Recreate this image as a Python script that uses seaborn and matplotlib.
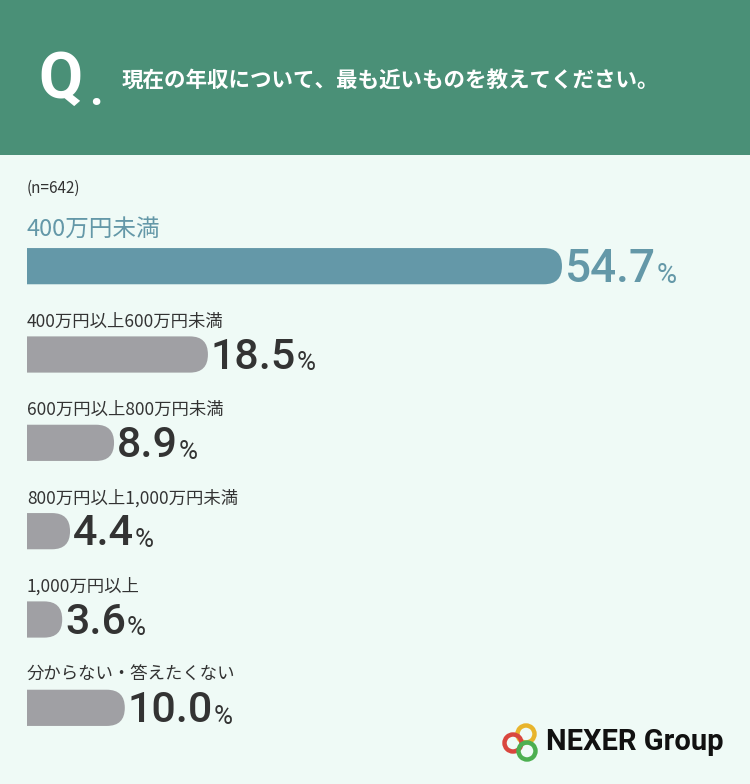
import matplotlib
matplotlib.use("Agg")
import matplotlib.pyplot as plt
import seaborn as sns
import pandas as pd
from matplotlib.patches import FancyBboxPatch, Rectangle, Circle

categories = ["400万円未満", "400万円以上600万円未満", "600万円以上800万円未満",
              "800万円以上1,000万円未満", "1,000万円以上", "分からない・答えたくない"]
values = [54.7, 18.5, 8.9, 4.4, 3.6, 10.0]
title = "現在の年収について、最も近いものを教えてください。"
note = "(n=642)"

BG = "#effaf6"
HEAD = "#4a9077"
BLUE = "#6498a8"
GRAY = "#a0a0a4"
NUMFONT = ["Roboto", "DejaVu Sans"]

sns.set_style("white")
plt.rcParams['font.family'] = ['Noto Sans CJK JP', 'DejaVu Sans']

W, H = 750, 784
fig = plt.figure(figsize=(7.5, 7.84), dpi=100, facecolor=BG)
fig.patches.append(Rectangle((0, 1 - 155 / H), 1, 155 / H, transform=fig.transFigure,
                             facecolor=HEAD, edgecolor="none", zorder=0))
fig.text(38 / W, 1 - 80 / H, "Q", color="white", fontsize=46, fontweight="bold", va="center",
         family=NUMFONT)
fig.text(89 / W, 1 - 92 / H, ".", color="white", fontsize=34, fontweight="bold", va="center",
         family=NUMFONT)
fig.text(122 / W, 1 - 80 / H, title, color="white", fontsize=15.5, va="center", fontweight="bold")
fig.text(27 / W, 1 - 188 / H, note, color="#333333", fontsize=11, va="center")

# main axes: 1 y unit = 88 px, 1 x unit = 9.78 px
ax = fig.add_axes([27 / W, 32 / H, 723 / W, 530 / H])
ax.set_facecolor("none")
df = pd.DataFrame({"cat": categories, "val": values})
colors = [BLUE] + [GRAY] * (len(values) - 1)
sns.barplot(data=df, y="cat", x="val", hue="cat", palette=colors, legend=False,
            orient="h", width=0.41, saturation=1, ax=ax)
ax.set_xlim(0, 723 / 9.78)
ax.set_ylim(5.5, -0.5)
ax.axis("off")

# rounded right end: extend the box left past the axes edge so the clip squares it
pxx, pxy = 9.78, 88.0
r = 18 / pxx
for p in list(ax.patches):
    x0, y0, w, h = p.get_x(), p.get_y(), p.get_width(), p.get_height()
    c = p.get_facecolor()
    p.set_visible(False)
    ax.add_patch(FancyBboxPatch((x0 - r, y0), w + r, h, boxstyle=f"round,pad=0,rounding_size={r}",
                                mutation_aspect=pxx / pxy, facecolor=c, edgecolor="none", lw=0))

for i, (cat, v) in enumerate(zip(categories, values)):
    first = i == 0
    col = BLUE if first else "#333333"
    ax.text(0, i - (0.42 if first else 0.37), cat, color=col,
            fontsize=17 if first else 12.5, va="center", ha="left")
    big = 33 if first else 31
    t = ax.text(v + 0.3, i + 0.03, f"{v:.1f}", color=col, fontsize=big, va="center",
                ha="left", fontweight="medium", family=NUMFONT)
    fig.canvas.draw()
    bb = t.get_window_extent().transformed(ax.transData.inverted())
    ax.text(bb.x1 + 0.05, i + 0.1, "%", color=col, fontsize=big * 0.6, va="center",
            ha="left", family=NUMFONT)

# logo
lax = fig.add_axes([498 / W, 18 / H, 48 / W, 48 / H])
lax.set_xlim(0, 48)
lax.set_ylim(0, 48)
lax.set_aspect("equal")
lax.axis("off")
for (cx, cy, cc) in [(28, 32, "#e8b42c"), (15, 23, "#d9463e"), (29, 15, "#4caf50")]:
    lax.add_patch(Circle((cx, cy), 8.5, fill=False, lw=3.2, edgecolor=cc))
fig.text(546 / W, 1 - 742 / H, "NEXER Group", fontsize=21, fontweight="bold", color="#111111",
         va="center", family=NUMFONT)

fig.savefig("out.png", dpi=100, facecolor=BG)
